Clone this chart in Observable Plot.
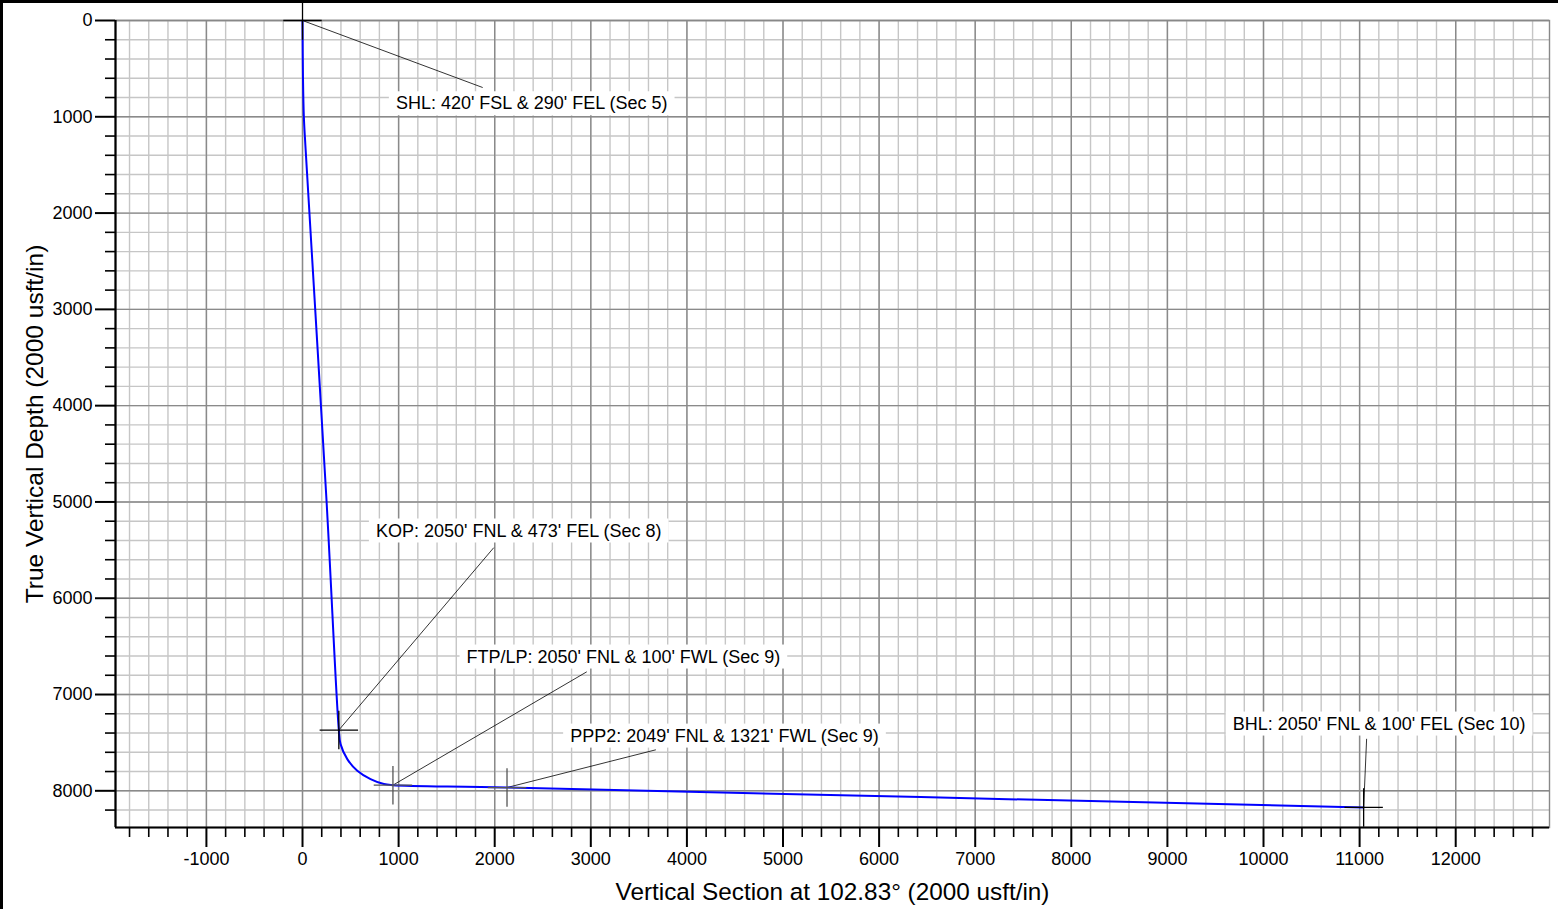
<!DOCTYPE html>
<html>
<head>
<meta charset="utf-8">
<script src="https://cdn.jsdelivr.net/npm/d3@7"></script>
<script src="https://cdn.jsdelivr.net/npm/@observablehq/plot@0.6"></script>
<style>
  html, body { margin: 0; padding: 0; background: #fff; }
  #chart { position: relative; width: 1558px; height: 909px; overflow: hidden; }
  #border { position: absolute; left: 0; top: 0; width: 1558px; height: 909px; box-sizing: border-box;
            border-top: 3px solid #000; border-left: 3px solid #000; pointer-events: none; }
  svg { display: block; }
</style>
</head>
<body>
<div id="chart"><div id="border"></div></div>
<script>
// ---- data ----
const pointNames = ["SHL", "KOP", "FTP/LP", "PPP2", "BHL"];
const pointVS    = [0, 378, 941, 2128, 11042];
const pointTVD   = [0, 7369, 7941, 7966, 8173];

const labelTexts = [
  "SHL: 420' FSL & 290' FEL (Sec 5)",
  "KOP: 2050' FNL & 473' FEL (Sec 8)",
  "FTP/LP: 2050' FNL & 100' FWL (Sec 9)",
  "PPP2: 2049' FNL & 1321' FWL (Sec 9)",
  "BHL: 2050' FNL & 100' FEL (Sec 10)"
];
const labelVS   = [2385, 2250, 3339, 4391, 11203];
const labelTVD  = [862, 5299, 6608, 7429, 7304];
const leaderVS  = [1875, 1990, 2958, 3677, 11073];
const leaderTVD = [696, 5475, 6764, 7574, 7460];

const pathVS  = [0, 5, 14, 30, 250, 378, 396, 466, 570, 708, 847, 941, 2128, 11042];
const pathTVD = [0, 600, 1000, 1300, 4987, 7369, 7515, 7671, 7792, 7879, 7930, 7941, 7966, 8173];

const xTickLabels = [-1000, 0, 1000, 2000, 3000, 4000, 5000, 6000, 7000, 8000, 9000, 10000, 11000, 12000];
const yTickLabels = [0, 1000, 2000, 3000, 4000, 5000, 6000, 7000, 8000];
const xMinor = d3.range(-1800, 13000, 200).filter(v => v % 1000 !== 0);
const yMinor = d3.range(200, 8400, 200).filter(v => v % 1000 !== 0);
const xGridMinor = d3.range(-1800, 13000, 200);
const yGridMinor = d3.range(0, 8400, 200);

const xDomain = [-1946, 12976];
const yDomain = [0, 8381];

// ---- tables ----
const points = pointNames.map((name, i) => ({name, vs: pointVS[i], tvd: pointTVD[i],
  label: labelTexts[i], lvs: labelVS[i], ltvd: labelTVD[i], evs: leaderVS[i], etvd: leaderTVD[i]}));
const path = pathVS.map((vs, i) => ({vs, tvd: pathTVD[i]}));

const half = 200;
const markColor = n => (n === "FTP/LP" || n === "PPP2") ? "#555" : "#000";
const fmt = d => String(d);

const chart = Plot.plot({
  width: 1558,
  height: 909,
  marginLeft: 115,
  marginRight: 9,
  marginTop: 20,
  marginBottom: 82,
  style: {fontFamily: "'Liberation Sans', Arial, sans-serif", fontSize: "18px", color: "#000", background: "transparent"},
  x: {domain: xDomain, label: null},
  y: {domain: yDomain, reverse: true, label: null},
  marks: [
    Plot.gridX(xGridMinor, {stroke: "#c6c6c6", strokeOpacity: 1, strokeWidth: 1.4}),
    Plot.gridY(yGridMinor, {stroke: "#c6c6c6", strokeOpacity: 1, strokeWidth: 1.4}),
    Plot.gridX(xTickLabels, {stroke: "#8a8a8a", strokeOpacity: 1, strokeWidth: 1.4}),
    Plot.gridY(yTickLabels, {stroke: "#8a8a8a", strokeOpacity: 1, strokeWidth: 1.4}),
    Plot.frame({stroke: "#888", strokeWidth: 1.4}),
    Plot.axisX(xMinor, {anchor: "bottom", tickSize: 10, text: null, strokeWidth: 1.6, label: null}),
    Plot.axisX(xTickLabels, {anchor: "bottom", tickSize: 20, tickPadding: 5, strokeWidth: 2, fontSize: 18, label: null, tickFormat: fmt}),
    Plot.axisY(yMinor, {anchor: "left", tickSize: 10, text: null, strokeWidth: 1.6, label: null}),
    Plot.axisY(yTickLabels, {anchor: "left", tickSize: 20, tickPadding: 3, strokeWidth: 2, fontSize: 18, label: null, tickFormat: fmt}),
    Plot.ruleY([yDomain[1]], {stroke: "#000", strokeWidth: 2.2}),
    Plot.ruleX([xDomain[0]], {stroke: "#000", strokeWidth: 2.2}),
    // leader lines
    Plot.link(points, {x1: "vs", y1: "tvd", x2: "evs", y2: "etvd", stroke: "#000", strokeWidth: 0.8}),
    // labels (white boxes added after render)
    Plot.text(points, {x: "lvs", y: "ltvd", text: "label", fontSize: 18, fill: "#000",
      textAnchor: "middle", lineAnchor: "middle", className: "ann"}),
    // well path
    Plot.line(path, {x: "vs", y: "tvd", stroke: "#0000ff", strokeWidth: 2, curve: "catmull-rom"}),
    // cross markers
    Plot.link(points, {x1: d => d.vs - half, x2: d => d.vs + half, y1: "tvd", y2: "tvd",
      stroke: d => markColor(d.name), strokeWidth: 1.3}),
    Plot.link(points, {x1: "vs", x2: "vs", y1: d => d.tvd - half, y2: d => d.tvd + half,
      stroke: d => markColor(d.name), strokeWidth: 1.3}),
    // axis titles
    Plot.text(["True Vertical Depth (2000 usft/in)"], {frameAnchor: "left", rotate: -90, dx: -80,
      fontSize: 24.5, fill: "#000", textAnchor: "middle", lineAnchor: "middle"}),
    Plot.text(["Vertical Section at 102.83° (2000 usft/in)"], {frameAnchor: "bottom", dy: 65,
      fontSize: 24.3, fill: "#000", textAnchor: "middle", lineAnchor: "middle"})
  ]
});

document.getElementById("chart").prepend(chart);

const ns = "http://www.w3.org/2000/svg";
chart.querySelectorAll("g.ann text").forEach(t => {
  const b = t.getBBox();
  const r = document.createElementNS(ns, "rect");
  r.setAttribute("x", b.x - 7);
  r.setAttribute("y", b.y - 2);
  r.setAttribute("width", b.width + 14);
  r.setAttribute("height", b.height + 4);
  r.setAttribute("fill", "#fff");
  const tr = t.getAttribute("transform");
  if (tr) r.setAttribute("transform", tr);
  t.parentNode.insertBefore(r, t);
});
</script>
</body>
</html>
